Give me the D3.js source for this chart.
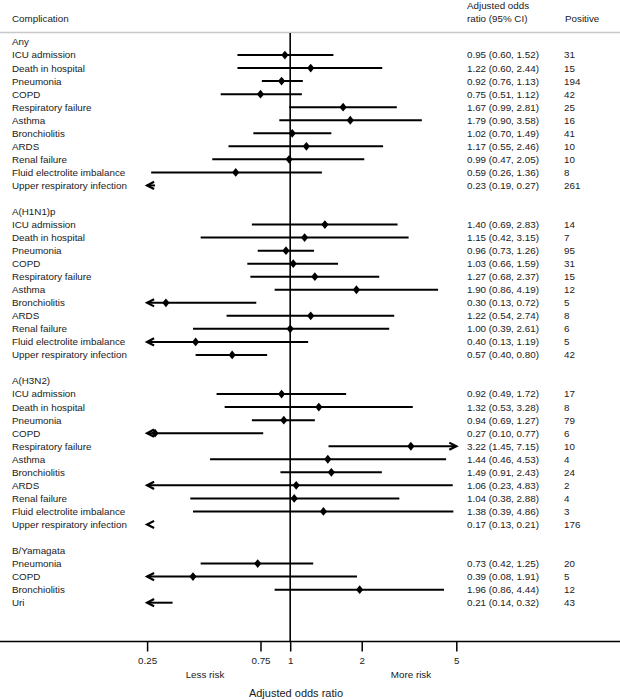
<!DOCTYPE html>
<html>
<head>
<meta charset="utf-8">
<script src="https://cdn.jsdelivr.net/npm/d3@7"></script>
<style>
  html, body { margin: 0; padding: 0; background: #fff; }
  svg { display: block; font-family: "Liberation Sans", Arial, Helvetica, sans-serif; }
</style>
</head>
<body>
<svg id="chart" width="620" height="700"></svg>
<script>
// ---------------- DATA ----------------
const groupNames = ["Any", "A(H1N1)p", "A(H3N2)", "B/Yamagata"];

const anyComp = ["ICU admission", "Death in hospital", "Pneumonia", "COPD", "Respiratory failure", "Asthma", "Bronchiolitis", "ARDS", "Renal failure", "Fluid electrolite imbalance", "Upper respiratory infection"];
const anyOR   = [0.95, 1.22, 0.92, 0.75, 1.67, 1.79, 1.02, 1.17, 0.99, 0.59, 0.23];
const anyLo   = [0.60, 0.60, 0.76, 0.51, 0.99, 0.90, 0.70, 0.55, 0.47, 0.26, 0.19];
const anyHi   = [1.52, 2.44, 1.13, 1.12, 2.81, 3.58, 1.49, 2.46, 2.05, 1.36, 0.27];
const anyN    = [31, 15, 194, 42, 25, 16, 41, 10, 10, 8, 261];

const h1Comp = ["ICU admission", "Death in hospital", "Pneumonia", "COPD", "Respiratory failure", "Asthma", "Bronchiolitis", "ARDS", "Renal failure", "Fluid electrolite imbalance", "Upper respiratory infection"];
const h1OR   = [1.40, 1.15, 0.96, 1.03, 1.27, 1.90, 0.30, 1.22, 1.00, 0.40, 0.57];
const h1Lo   = [0.69, 0.42, 0.73, 0.66, 0.68, 0.86, 0.13, 0.54, 0.39, 0.13, 0.40];
const h1Hi   = [2.83, 3.15, 1.26, 1.59, 2.37, 4.19, 0.72, 2.74, 2.61, 1.19, 0.80];
const h1N    = [14, 7, 95, 31, 15, 12, 5, 8, 6, 5, 42];

const h3Comp = ["ICU admission", "Death in hospital", "Pneumonia", "COPD", "Respiratory failure", "Asthma", "Bronchiolitis", "ARDS", "Renal failure", "Fluid electrolite imbalance", "Upper respiratory infection"];
const h3OR   = [0.92, 1.32, 0.94, 0.27, 3.22, 1.44, 1.49, 1.06, 1.04, 1.38, 0.17];
const h3Lo   = [0.49, 0.53, 0.69, 0.10, 1.45, 0.46, 0.91, 0.23, 0.38, 0.39, 0.13];
const h3Hi   = [1.72, 3.28, 1.27, 0.77, 7.15, 4.53, 2.43, 4.83, 2.88, 4.86, 0.21];
const h3N    = [17, 8, 79, 6, 10, 4, 24, 2, 4, 3, 176];

const byComp = ["Pneumonia", "COPD", "Bronchiolitis", "Uri"];
const byOR   = [0.73, 0.39, 1.96, 0.21];
const byLo   = [0.42, 0.08, 0.86, 0.14];
const byHi   = [1.25, 1.91, 4.44, 0.32];
const byN    = [20, 5, 12, 43];

const tickValues = [0.25, 0.75, 1, 2, 5];
const tickLabels = ["0.25", "0.75", "1", "2", "5"];

// ---------------- BUILD ROWS ----------------
const groupData = [
  [anyComp, anyOR, anyLo, anyHi, anyN],
  [h1Comp, h1OR, h1Lo, h1Hi, h1N],
  [h3Comp, h3OR, h3Lo, h3Hi, h3N],
  [byComp, byOR, byLo, byHi, byN]
];
const rows = [];
let idx = 0;
groupData.forEach((g, gi) => {
  if (gi > 0) idx += 1; // blank spacer row
  rows.push({ type: "header", label: groupNames[gi], i: idx++ });
  g[0].forEach((c, k) => {
    rows.push({ type: "item", label: c, or: g[1][k], lo: g[2][k], hi: g[3][k], n: g[4][k], i: idx++ });
  });
});
const nRows = idx;

// ---------------- SCALES ----------------
const svg = d3.select("#chart");
const fs = 9.8;
const textColor = "#1a1a1a";
const x = d3.scaleLog().domain([0.25, 5]).range([147.1, 456.3]);
const y = d3.scaleLinear().domain([0, nRows - 1]).range([42, 602.7]);
const axisY = 641.5;

// header
svg.append("text").attr("x", 12).attr("y", 19).attr("dy", "0.35em")
  .attr("font-size", fs).attr("fill", textColor).text("Complication");
svg.append("text").attr("x", 467).attr("y", 5.5).attr("dy", "0.35em")
  .attr("font-size", fs).attr("fill", textColor).text("Adjusted odds");
svg.append("text").attr("x", 467).attr("y", 18.5).attr("dy", "0.35em")
  .attr("font-size", fs).attr("fill", textColor).text("ratio (95% CI)");
svg.append("text").attr("x", 565).attr("y", 18.5).attr("dy", "0.35em")
  .attr("font-size", fs).attr("fill", textColor).text("Positive");
svg.append("line").attr("x1", 0).attr("x2", 620).attr("y1", 32.5).attr("y2", 32.5)
  .attr("stroke", "#c8c8c8").attr("stroke-width", 1.5);

// reference line at 1
svg.append("line").attr("x1", x(1)).attr("x2", x(1)).attr("y1", 33).attr("y2", axisY)
  .attr("stroke", "#000").attr("stroke-width", 1.6);

// labels
svg.append("g").selectAll("text").data(rows).join("text")
  .attr("x", 12).attr("y", d => y(d.i)).attr("dy", "0.35em")
  .attr("font-size", fs).attr("fill", textColor).text(d => d.label);

const items = rows.filter(d => d.type === "item");
const fmt = d3.format(".2f");
svg.append("g").selectAll("text").data(items).join("text")
  .attr("x", 467).attr("y", d => y(d.i)).attr("dy", "0.35em")
  .attr("font-size", fs).attr("fill", textColor)
  .text(d => `${fmt(d.or)} (${fmt(d.lo)}, ${fmt(d.hi)})`);
svg.append("g").selectAll("text").data(items).join("text")
  .attr("x", 564).attr("y", d => y(d.i)).attr("dy", "0.35em")
  .attr("font-size", fs).attr("fill", textColor).text(d => d.n);

// CI lines
const [dmin, dmax] = x.domain();
const clamp = v => Math.max(dmin, Math.min(dmax, v));
const ci = svg.append("g");
items.forEach(d => {
  const yy = y(d.i);
  const x1 = x(clamp(d.lo)), x2 = x(clamp(d.hi));
  if (x2 > x1) {
    ci.append("line").attr("x1", x1).attr("x2", x2).attr("y1", yy).attr("y2", yy)
      .attr("stroke", "#000").attr("stroke-width", 2);
  }
  if (d.lo < dmin) {
    ci.append("path").attr("d", `M${x1 + 7},${yy - 3.6}L${x1},${yy}L${x1 + 7},${yy + 3.6}`)
      .attr("fill", "none").attr("stroke", "#000").attr("stroke-width", 2.2)
      .attr("stroke-linejoin", "miter");
  }
  if (d.hi > dmax) {
    ci.append("path").attr("d", `M${x2 - 7},${yy - 3.6}L${x2},${yy}L${x2 - 7},${yy + 3.6}`)
      .attr("fill", "none").attr("stroke", "#000").attr("stroke-width", 2.2)
      .attr("stroke-linejoin", "miter");
  }
  if (d.or >= dmin && d.or <= dmax) {
    const px = x(d.or);
    ci.append("path").attr("d", `M${px},${yy - 4.4}L${px + 3.6},${yy}L${px},${yy + 4.4}L${px - 3.6},${yy}Z`)
      .attr("fill", "#000");
  }
});

// axis
svg.append("line").attr("x1", 0).attr("x2", 620).attr("y1", axisY).attr("y2", axisY)
  .attr("stroke", "#000").attr("stroke-width", 1.5);
const axis = d3.axisBottom(x).tickValues(tickValues)
  .tickFormat((d, i) => tickLabels[i]).tickSize(10).tickPadding(6);
const ag = svg.append("g").attr("transform", `translate(0,${axisY})`).call(axis);
ag.select(".domain").remove();
ag.selectAll(".tick line").attr("stroke", "#000").attr("stroke-width", 1.5);
ag.selectAll(".tick text").attr("font-size", fs).attr("fill", textColor)
  .attr("font-family", "Liberation Sans, Arial, sans-serif");

svg.append("text").attr("x", 205).attr("y", 674.5).attr("dy", "0.35em").attr("text-anchor", "middle")
  .attr("font-size", fs).attr("fill", textColor).text("Less risk");
svg.append("text").attr("x", 411).attr("y", 674.5).attr("dy", "0.35em").attr("text-anchor", "middle")
  .attr("font-size", fs).attr("fill", textColor).text("More risk");
svg.append("text").attr("x", 296).attr("y", 693).attr("dy", "0.35em").attr("text-anchor", "middle")
  .attr("font-size", 11).attr("fill", textColor).text("Adjusted odds ratio");
</script>
</body>
</html>
